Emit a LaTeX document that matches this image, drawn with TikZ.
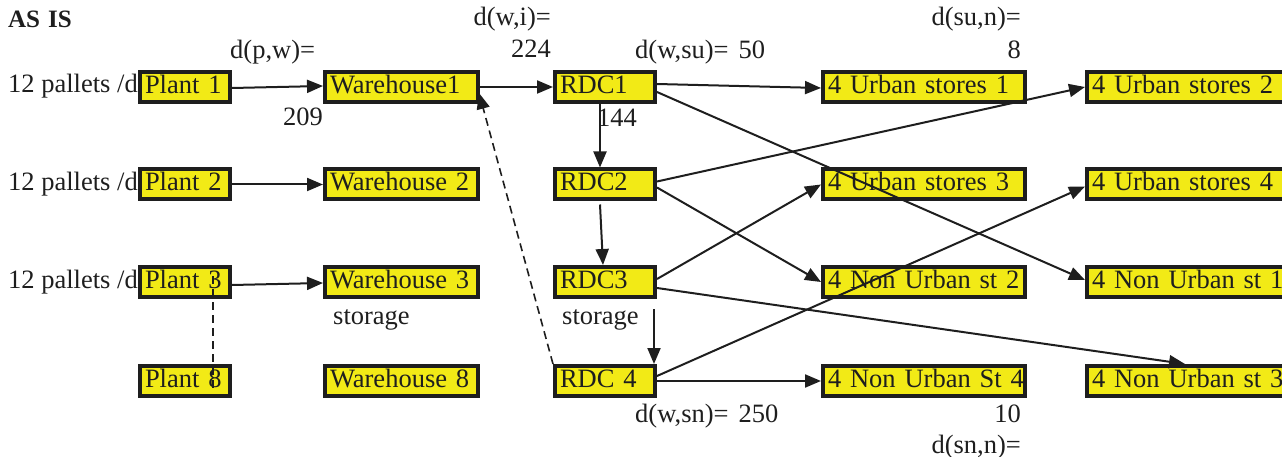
\documentclass[tikz,border=0pt]{standalone}
\usepackage{fontspec}
\setmainfont{Liberation Serif}
\usetikzlibrary{arrows.meta,calc}
\definecolor{boxyellow}{RGB}{242,234,22}
\definecolor{ink}{RGB}{30,30,30}
\begin{document}
\begin{tikzpicture}[x=1pt,y=-1pt,
 every node/.style={font=\fontsize{26.5}{30}\selectfont, text=ink},
 box/.style={draw=ink, line width=4pt, fill=boxyellow, minimum height=30pt, inner xsep=5pt, inner ysep=0pt, align=left, anchor=west, text height=18pt, text depth=5pt, execute at begin node={\hbox\bgroup}, execute at end node={\egroup}},
 lbl/.style={inner sep=0pt, text height=18pt, text depth=6pt},
 arr/.style={draw=ink, line width=2pt, -{Triangle[length=16pt,width=13pt]}},
 dsh/.style={draw=ink, line width=1.6pt, dash pattern=on 8pt off 5pt},
]
\useasboundingbox (0,0) rectangle (1282,457);

% boxes
\node[box, text width=80pt] (p1) at (138,87) {Plant 1};
\node[box, text width=80pt] (p2) at (138,184.5) {Plant 2};
\node[box, text width=80pt] (p3) at (138,282) {Plant 3};
\node[box, text width=80pt] (p8) at (138,381) {Plant 8};

\node[box, text width=143pt] (w1) at (323,87) {Warehouse1};
\node[box, text width=143pt] (w2) at (323,184.5) {Warehouse 2};
\node[box, text width=143pt] (w3) at (323,282) {Warehouse 3};
\node[box, text width=143pt] (w8) at (323,381) {Warehouse 8};

\node[box, text width=90pt] (r1) at (553,87) {RDC1};
\node[box, text width=90pt] (r2) at (553,184.5) {RDC2};
\node[box, text width=90pt] (r3) at (553,282) {RDC3};
\node[box, text width=90pt] (r4) at (553,381) {RDC 4};

\node[box, text width=192pt] (u1) at (821,87) {4 Urban stores 1};
\node[box, text width=192pt] (u3) at (821,184.5) {4 Urban stores 3};
\node[box, text width=192pt] (n2) at (821,282) {4 Non Urban st 2};
\node[box, text width=192pt] (ns4) at (821,381) {4 Non Urban St 4};

\node[box, text width=193pt] (u2) at (1085,87) {4 Urban stores 2};
\node[box, text width=193pt] (u4) at (1085,184.5) {4 Urban stores 4};
\node[box, text width=193pt] (n1) at (1085,282) {4 Non Urban st 1};
\node[box, text width=193pt] (nu3) at (1085,381) {4 Non Urban st 3};

% labels
\node[lbl, anchor=west, font=\fontsize{25}{28}\selectfont\bfseries] (asis) at (8,22) {AS\hspace{8pt}IS};
\node[lbl, anchor=west] (pal1) at (8,87) {12 pallets /d};
\node[lbl, anchor=west] (pal2) at (8,184.5) {12 pallets /d};
\node[lbl, anchor=west] (pal3) at (8,282) {12 pallets /d};
\node[lbl, anchor=west] (dpw) at (230,53) {d(p,w)=};
\node[lbl, anchor=west] (n209) at (283,120) {209};
\node[lbl, anchor=east] (dwi) at (551,20) {d(w,i)=};
\node[lbl, anchor=east] (n224) at (551,52) {224};
\node[lbl, anchor=west] (dwsu) at (635,53) {d(w,su)=\hspace{10pt}50};
\node[lbl, anchor=east] (dsun) at (1021,20) {d(su,n)=};
\node[lbl, anchor=east] (n8) at (1021,53) {8};
\node[lbl, anchor=west] (n144) at (597,121) {144};
\node[lbl, anchor=west] (st1) at (333,318) {storage};
\node[lbl, anchor=west] (st2) at (562,318) {storage};
\node[lbl, anchor=west] (dwsn) at (635,416) {d(w,sn)=\hspace{10pt}250};
\node[lbl, anchor=east] (n10) at (1021,416) {10};
\node[lbl, anchor=east] (dsnn) at (1021,447) {d(sn,n)=};

% connectors
\draw[arr] ($(p1.east)+(0,1)$) -- ($(w1.west)+(0,-1)$);
\draw[arr] (p2.east) -- (w2.west);
\draw[arr] ($(p3.east)+(0,3)$) -- ($(w3.west)+(0,1)$);
\draw[arr] (w1.east) -- (r1.west);
\draw[dsh, -{Triangle[length=16pt,width=13pt]}] (r4.north west) -- ($(w1.east)+(-1,6)$);
\draw[dsh] ($(p3.center)+(28,-6)$) -- ($(p8.center)+(28,11)$);

\draw[arr] ($(r1.south)+(-5,0)$) -- ($(r2.north)+(-5,0)$);
\draw[arr] ($(r2.south)+(-5,3)$) -- ($(r3.north)+(-2,0)$);
\draw[arr] ($(r3.south east)+(-3,10)$) -- ($(r4.north east)+(-3,0)$);

\draw[arr] ($(r1.east)+(0,-3)$) -- ($(u1.west)+(0,1)$);
\draw[arr] ($(r1.east)+(0,5)$) -- ($(n1.west)+(0,-2)$);
\draw[arr] ($(r2.east)+(0,-3)$) -- (u2.west);
\draw[arr] ($(r2.east)+(0,3)$) -- (n2.west);
\draw[arr] ($(r3.east)+(0,-3)$) -- (u3.west);
\draw[arr] ($(r3.east)+(0,6)$) -- ($(nu3.north west)+(100,0)$);
\draw[arr] ($(r4.east)+(0,-5)$) -- ($(u4.west)+(0,2)$);
\draw[arr] (r4.east) -- (ns4.west);
\end{tikzpicture}
\end{document}
